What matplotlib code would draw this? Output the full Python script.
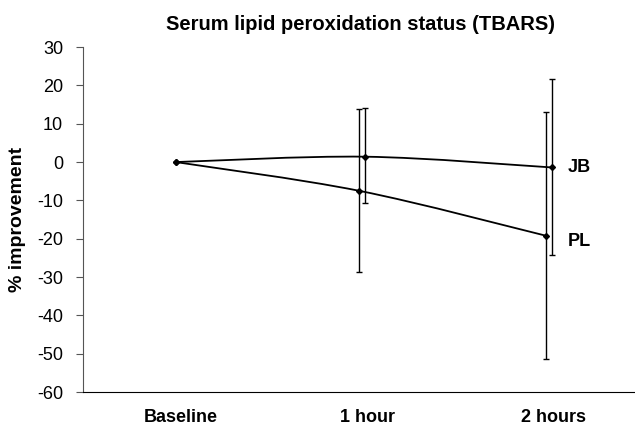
import numpy as np
import matplotlib
matplotlib.use('Agg')
import matplotlib.pyplot as plt
from matplotlib.path import Path
from matplotlib.patches import PathPatch
from matplotlib.transforms import ScaledTranslation

plt.rcParams['font.family'] = ['Liberation Sans', 'DejaVu Sans']
plt.rcParams['axes.unicode_minus'] = False

# Data
categories = ['Baseline', '1 hour', '2 hours']
jb_mean = [0, 1.4, -1.4]
jb_upper = [0, 14.1, 21.7]
jb_lower = [0, -10.8, -24.2]
pl_mean = [0, -7.5, -19.2]
pl_upper = [0, 13.8, 13.0]
pl_lower = [0, -28.7, -51.4]


def smooth_path(xs, ys):
    # Excel-style smoothed line: cubic Bezier through the points
    pts = np.column_stack([xs, ys]).astype(float)
    ext = np.vstack([pts[0], pts, pts[-1]])
    verts = [pts[0]]
    codes = [Path.MOVETO]
    for i in range(len(pts) - 1):
        p0, p1, p2, p3 = ext[i], ext[i + 1], ext[i + 2], ext[i + 3]
        c1 = p1 + (p2 - p0) / 6.0
        c2 = p2 - (p3 - p1) / 6.0
        verts += [c1, c2, p2]
        codes += [Path.CURVE4] * 3
    return Path(verts, codes)


fig = plt.figure(figsize=(6.35, 4.28), dpi=100)
ax = fig.add_axes([0.130, 0.084, 0.875, 0.806])

x = np.arange(len(categories), dtype=float)
offset = 0.016

for mean, up, lo, dx in [(pl_mean, pl_upper, pl_lower, -offset),
                         (jb_mean, jb_upper, jb_lower, offset)]:
    xs = x.copy()
    xs[1:] += dx
    ax.add_patch(PathPatch(smooth_path(xs, mean), fill=False, lw=1.3, color='black'))
    ax.plot(xs, mean, ls='none', marker='D', ms=3, color='black')
    m = np.array(mean)
    yerr = [m - np.array(lo), np.array(up) - m]
    ax.errorbar(xs[1:], m[1:], yerr=[yerr[0][1:], yerr[1][1:]], fmt='none',
                ecolor='black', elinewidth=1.0, capsize=2.5, capthick=1.0)

ax.text(2.10, jb_mean[2], 'JB', fontsize=13, fontweight='bold', va='center')
ax.text(2.10, pl_mean[2] - 1.5, 'PL', fontsize=13, fontweight='bold', va='center')

ax.set_xlim(-0.5, 2.48)
ax.set_ylim(-60, 30)
ax.set_yticks(range(-60, 31, 10))
ax.set_xticks(x)
ax.set_xticklabels(categories, fontweight='bold', fontsize=13)
ax.tick_params(axis='x', length=0, pad=12)
shift = ScaledTranslation(5 / 100, 0, fig.dpi_scale_trans)
for lab in ax.get_xticklabels():
    lab.set_transform(lab.get_transform() + shift)
ax.tick_params(axis='y', length=5, direction='out', labelsize=13,
               color='#555555', pad=9)
ax.spines['top'].set_visible(False)
ax.spines['right'].set_visible(False)
ax.spines['left'].set_color('#555555')
ax.set_ylabel('% improvement', fontsize=14, fontweight='bold', labelpad=8)
ax.set_title('Serum lipid peroxidation status (TBARS)', fontsize=14.5,
             fontweight='bold', pad=12)

fig.savefig('out.png', dpi=100)
